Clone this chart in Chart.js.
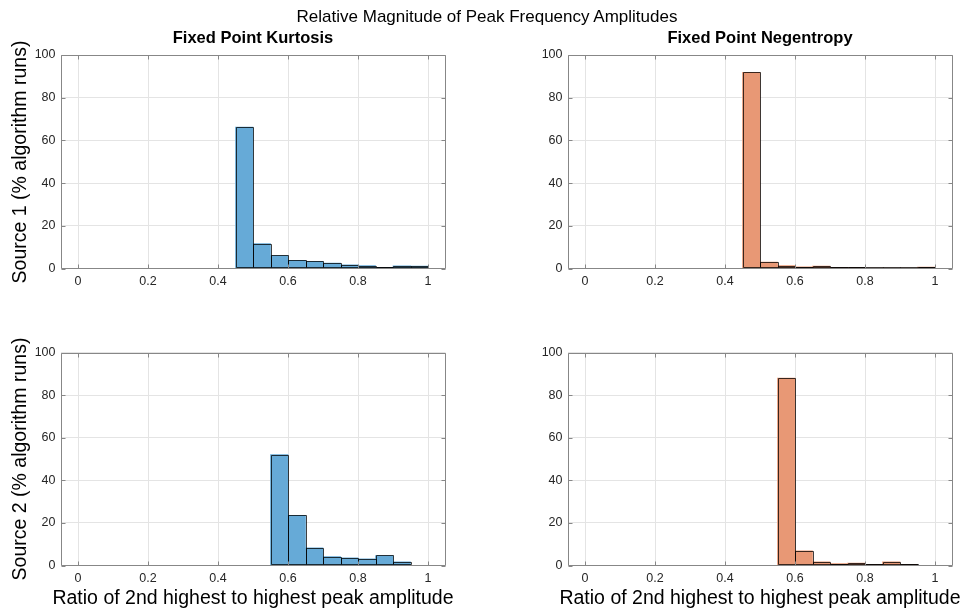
<!DOCTYPE html>
<html>
<head>
<meta charset="utf-8">
<script src="https://cdn.jsdelivr.net/npm/chart.js@4.4.0/dist/chart.umd.min.js"></script>
<style>
html,body{margin:0;padding:0;background:#fff;}
#fig{position:relative;width:966px;height:611px;overflow:hidden;background:#fff;font-family:"Liberation Sans",Arial,Helvetica,sans-serif;color:#000;}
canvas{position:absolute;left:0;top:0;}
.t{position:absolute;white-space:nowrap;line-height:1;transform:translate(-50%,-50%);}
.r{transform:translate(-50%,-50%) rotate(-90deg);}
</style>
</head>
<body>
<div id="fig">
  <canvas id="c1" width="966" height="611"></canvas>
  <canvas id="c2" width="966" height="611"></canvas>
  <canvas id="c3" width="966" height="611"></canvas>
  <canvas id="c4" width="966" height="611"></canvas>
  <div class="t" style="left:487px;top:16px;font-size:17px;">Relative Magnitude of Peak Frequency Amplitudes</div>
  <div class="t" style="left:253px;top:37px;font-size:16.5px;font-weight:bold;">Fixed Point Kurtosis</div>
  <div class="t" style="left:760px;top:37px;font-size:16.5px;font-weight:bold;">Fixed Point Negentropy</div>
  <div class="t r" style="left:20px;top:162px;font-size:19.5px;">Source 1 (% algorithm runs)</div>
  <div class="t r" style="left:20px;top:459px;font-size:19.5px;">Source 2 (% algorithm runs)</div>
  <div class="t" style="left:253px;top:598px;font-size:19.5px;">Ratio of 2nd highest to highest peak amplitude</div>
  <div class="t" style="left:760px;top:598px;font-size:19.5px;">Ratio of 2nd highest to highest peak amplitude</div>
</div>
<script>
// ---- data ----
const xTicks = [0, 0.2, 0.4, 0.6, 0.8, 1];
const yTicks = [0, 20, 40, 60, 80, 100];

// Source 1 (bin centers, width 0.05)
const s1Bins = [0.475, 0.525, 0.575, 0.625, 0.675, 0.725, 0.775, 0.825, 0.875, 0.925, 0.975];
const kurtosisS1 = [66.2, 11.7, 6.1, 3.8, 3.3, 2.5, 1.7, 1.4, 0.6, 1.2, 1.1];
const negentropyS1 = [91.9, 3.0, 1.4, 0.8, 1.1, 0.6, 0.6, 0.15, 0.15, 0.15, 0.7];

// Source 2
const s2Bins = [0.575, 0.625, 0.675, 0.725, 0.775, 0.825, 0.875, 0.925];
const kurtosisS2 = [52.1, 23.6, 8.3, 4.2, 3.6, 3.1, 4.7, 1.7];
const negentropyS2 = [88.0, 6.9, 1.7, 0.9, 1.1, 0.5, 1.7, 0.5];

// ---- style ----
const W = 966, H = 611;
const BLUE = 'rgb(102,170,215)';
const ORANGE = 'rgb(232,152,117)';
const EDGE = 'rgba(0,0,0,0.75)';
const GRID = '#e4e4e4';
const AXC = '#878787';
const TICKC = '#262626';
const FONT = '"Liberation Sans", Arial, Helvetica, sans-serif';

const boxPlugin = {
  id: 'matlabBox',
  afterDatasetsDraw(chart) {
    const ctx = chart.ctx, a = chart.chartArea;
    const xs = chart.scales.x, ys = chart.scales.y;
    ctx.save();
    // bar edges (from the library's bar elements)
    ctx.strokeStyle = EDGE;
    ctx.lineWidth = 1;
    ctx.beginPath();
    chart.getDatasetMeta(0).data.forEach(bar => {
      const p = bar.getProps(['x', 'y', 'base', 'width'], true);
      const x0 = Math.round(p.x - p.width / 2) + 0.5;
      const x1 = Math.round(p.x + p.width / 2) + 0.5;
      const yt = Math.round(p.y) + 0.5;
      const yb = Math.round(p.base) - 0.5;
      ctx.rect(x0, Math.min(yt, yb), x1 - x0, Math.abs(yb - yt));
    });
    ctx.stroke();
    // axes box and inward ticks
    const L = Math.round(a.left) + 0.5, R = Math.round(a.right) - 0.5;
    const T = Math.round(a.top) + 0.5, B = Math.round(a.bottom) - 0.5;
    const tl = 4;
    ctx.strokeStyle = AXC;
    ctx.beginPath();
    ctx.rect(L, T, R - L, B - T);
    xTicks.forEach(v => {
      const px = Math.round(xs.getPixelForValue(v)) + 0.5;
      ctx.moveTo(px, B); ctx.lineTo(px, B - tl);
      ctx.moveTo(px, T); ctx.lineTo(px, T + tl);
    });
    yTicks.forEach(v => {
      const py = Math.round(ys.getPixelForValue(v)) + 0.5;
      ctx.moveTo(L, py); ctx.lineTo(L + tl, py);
      ctx.moveTo(R, py); ctx.lineTo(R - tl, py);
    });
    ctx.stroke();
    ctx.restore();
  }
};

function makeChart(id, bins, values, fill, area) {
  const YW = 40, XH = 26;
  return new Chart(document.getElementById(id), {
    type: 'bar',
    data: {
      datasets: [{
        data: bins.map((x, i) => ({ x: x, y: values[i] })),
        backgroundColor: fill,
        borderWidth: 0,
        barPercentage: 1,
        categoryPercentage: 1
      }]
    },
    options: {
      responsive: false,
      maintainAspectRatio: false,
      animation: false,
      devicePixelRatio: 1,
      layout: { padding: { left: area.l - YW, top: area.t, right: W - area.r, bottom: H - area.b - XH } },
      plugins: { legend: { display: false }, tooltip: { enabled: false }, title: { display: false } },
      scales: {
        x: {
          type: 'linear', min: -0.05, max: 1.05, offset: false,
          grid: { color: GRID, drawTicks: false, offset: false, lineWidth: 1 },
          border: { display: false },
          ticks: {
            padding: 6, color: TICKC, autoSkip: false, maxRotation: 0, minRotation: 0,
            font: { family: FONT, size: 12.5 },
            callback: v => String(+(+v).toFixed(1))
          },
          afterBuildTicks: s => { s.ticks = xTicks.map(v => ({ value: v })); },
          afterFit: s => { s.height = XH; }
        },
        y: {
          type: 'linear', min: 0, max: 100,
          grid: { color: GRID, drawTicks: false, lineWidth: 1 },
          border: { display: false },
          ticks: {
            padding: 5, color: TICKC,
            font: { family: FONT, size: 12.5 },
            callback: v => String(v)
          },
          afterBuildTicks: s => { s.ticks = yTicks.map(v => ({ value: v })); },
          afterFit: s => { s.width = YW; }
        }
      }
    },
    plugins: [boxPlugin]
  });
}

makeChart('c1', s1Bins, kurtosisS1, BLUE, { l: 60.5, r: 445.5, t: 55, b: 268.5 });
makeChart('c2', s1Bins, negentropyS1, ORANGE, { l: 567.5, r: 952.5, t: 55, b: 268.5 });
makeChart('c3', s2Bins, kurtosisS2, BLUE, { l: 60.5, r: 445.5, t: 352.5, b: 565.5 });
makeChart('c4', s2Bins, negentropyS2, ORANGE, { l: 567.5, r: 952.5, t: 352.5, b: 565.5 });
</script>
</body>
</html>
